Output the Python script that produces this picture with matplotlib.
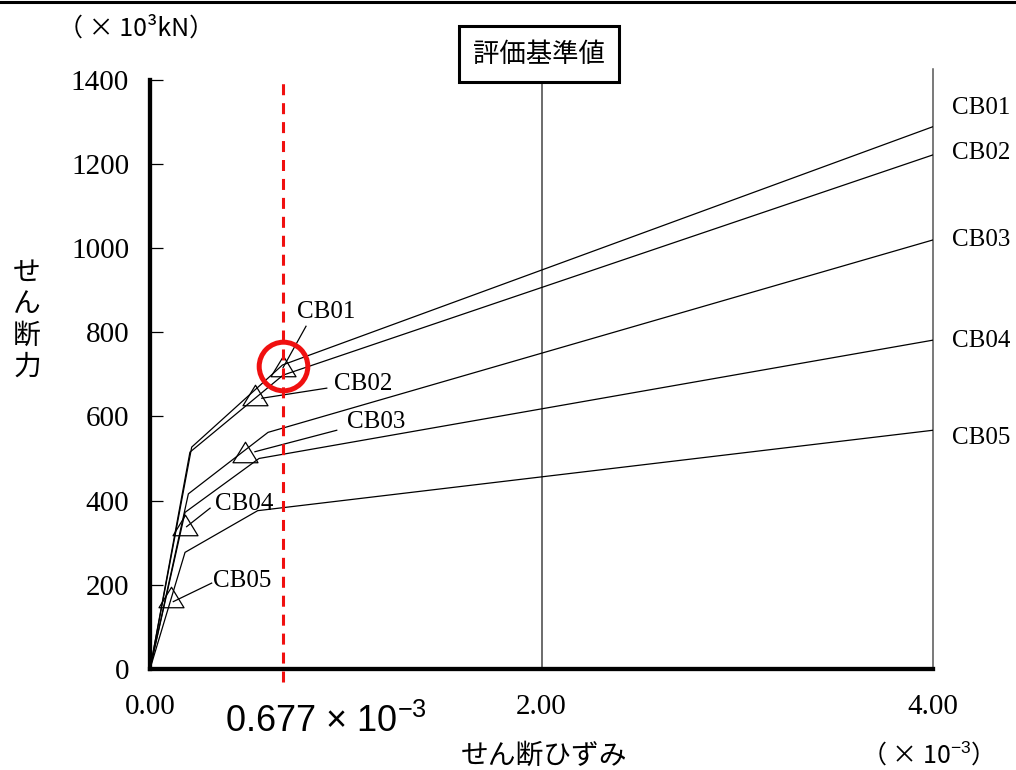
import matplotlib
matplotlib.use("Agg")
import matplotlib.pyplot as plt
from matplotlib.lines import Line2D
from matplotlib.path import Path

# ---- data: trilinear shear force / shear strain skeletons ----
cb_names = ["CB01", "CB02", "CB03", "CB04", "CB05"]

strain_cb01 = [0.0, 0.213, 0.677, 4.0]
shear_cb01 = [0, 527, 722, 1288]
strain_cb02 = [0.0, 0.204, 0.68, 4.0]
shear_cb02 = [0, 515, 698, 1221]
strain_cb03 = [0.0, 0.196, 0.603, 4.0]
shear_cb03 = [0, 416, 562, 1019]
strain_cb04 = [0.0, 0.179, 0.557, 4.0]
shear_cb04 = [0, 372, 500, 781]
strain_cb05 = [0.0, 0.179, 0.55, 4.0]
shear_cb05 = [0, 277, 376, 567]

strains = [strain_cb01, strain_cb02, strain_cb03, strain_cb04, strain_cb05]
shears = [shear_cb01, shear_cb02, shear_cb03, shear_cb04, shear_cb05]

# marked points (triangles) on each skeleton
mark_strain = [0.677, 0.536, 0.485, 0.18, 0.107]
mark_shear = [720, 651, 515, 343, 171]

criterion_strain = 0.677      # evaluation reference strain (x10^-3)
y_ticks = [0, 200, 400, 600, 800, 1000, 1200, 1400]
x_ticks = [0.0, 2.0, 4.0]
x_tick_labels = ["0.00", "2.00", "4.00"]

# ---- layout ----
W, H = 1016, 770
JP = "Noto Sans CJK JP"
SERIF = "Liberation Serif"
plt.rcParams["mathtext.fontset"] = "custom"
plt.rcParams["mathtext.rm"] = "Liberation Sans"
plt.rcParams["mathtext.it"] = "Liberation Sans"
plt.rcParams["mathtext.bf"] = "Liberation Sans"

fig = plt.figure(figsize=(W / 100, H / 100), dpi=100)


def fx(px):
    return px / W


def fy(py):
    return 1 - py / H


ax = fig.add_axes([fx(150), fy(669), fx(933) - fx(150), fy(79.5) - fy(669)])
ax.set_xlim(0, 4)
ax.set_ylim(0, 1400)

for side in ("top", "right"):
    ax.spines[side].set_visible(False)
for side in ("left", "bottom"):
    ax.spines[side].set_linewidth(3.1)
    ax.spines[side].set_color("black")

ax.set_yticks(y_ticks)
ax.set_yticklabels([str(v) for v in y_ticks], fontfamily=SERIF, fontsize=21)
ax.tick_params(axis="y", direction="in", length=9, width=0.9, pad=15)
ax.set_xticks(x_ticks)
ax.set_xticklabels(x_tick_labels, fontfamily=SERIF, fontsize=21)
ax.tick_params(axis="x", length=0, pad=18)

# vertical reference lines at 2.00 and 4.00
ax.plot([2.0, 2.0], [0, 1400], color="#444444", lw=1.1, clip_on=False, zorder=1)
ax.plot([4.0, 4.0], [0, 1424], color="#555555", lw=1.1, clip_on=False, zorder=1)

# skeleton curves
for xs, ys in zip(strains, shears):
    ax.plot(xs, ys, color="black", lw=0.9, zorder=3)

# open triangle markers (closed outline)
tri = Path([(-1, -0.82), (1, -0.82), (0, 0.82), (-1, -0.82)],
           [Path.MOVETO, Path.LINETO, Path.LINETO, Path.CLOSEPOLY])
ax.plot(mark_strain, mark_shear, linestyle="none", marker=tri, markersize=18,
        markerfacecolor="none", markeredgecolor="black", markeredgewidth=0.9,
        zorder=4)

# leader lines and labels near the markers
leader_start = [(0.680, 716), (0.571, 643), (0.536, 516), (0.187, 338), (0.119, 160)]
leader_end = [(0.797, 814), (0.903, 667), (0.954, 567), (0.307, 382), (0.315, 204)]
label_pos = [(0.899, 849), (1.088, 678), (1.155, 587), (0.48, 392), (0.47, 209)]
for name, s, e, p in zip(cb_names, leader_start, leader_end, label_pos):
    ax.plot([s[0], e[0]], [s[1], e[1]], color="black", lw=0.9, zorder=4)
    ax.text(p[0], p[1], name, fontfamily=SERIF, fontsize=18,
            ha="center", va="center", zorder=5)

# labels at the right end
end_label_y = [1332, 1226, 1019, 779, 548]
for name, yv in zip(cb_names, end_label_y):
    ax.text(4.097, yv, name, fontfamily=SERIF, fontsize=18,
            ha="left", va="center", clip_on=False)

# evaluation reference strain: dashed red line + circle
ax.plot([criterion_strain, criterion_strain], [-31, 1403], color="#f01010",
        lw=2.2, dashes=(3.6, 2.6), clip_on=False, zorder=6)
ax.plot([mark_strain[0]], [mark_shear[0]], linestyle="none", marker="o",
        markersize=35, markerfacecolor="none", markeredgecolor="#f01010",
        markeredgewidth=3.6, clip_on=False, zorder=7)
ax.text(0.9, -150, "0.677 × 10$^{-3}$", fontfamily="Liberation Sans",
        fontsize=26, ha="center", va="baseline", clip_on=False)

# framed title above the 2.00 line
fig.text(fx(539), fy(54), "評価基準値", fontfamily=JP, fontsize=19,
         ha="center", va="center",
         bbox=dict(boxstyle="square,pad=0.55", facecolor="white",
                   edgecolor="black", linewidth=2.2))

# unit and axis captions
fig.text(fx(136), fy(29), "（ × 10³kN）", fontfamily=JP, fontsize=18,
         ha="center", va="center")
fig.text(fx(27), fy(320), "せ\nん\n断\n力", fontfamily=JP, fontsize=20,
         ha="center", va="center", linespacing=1.05)
fig.text(fx(544), fy(756), "せん断ひずみ", fontfamily=JP, fontsize=20,
         ha="center", va="center")
fig.text(fx(921), fy(755), "（ × 10$^{-3}$）", fontfamily=JP, fontsize=18,
         ha="center", va="center")

# page rule along the top edge
fig.add_artist(Line2D([0, 1], [fy(1.5), fy(1.5)], color="black", lw=2.2,
                      transform=fig.transFigure))

fig.savefig("out.png", dpi=100)
